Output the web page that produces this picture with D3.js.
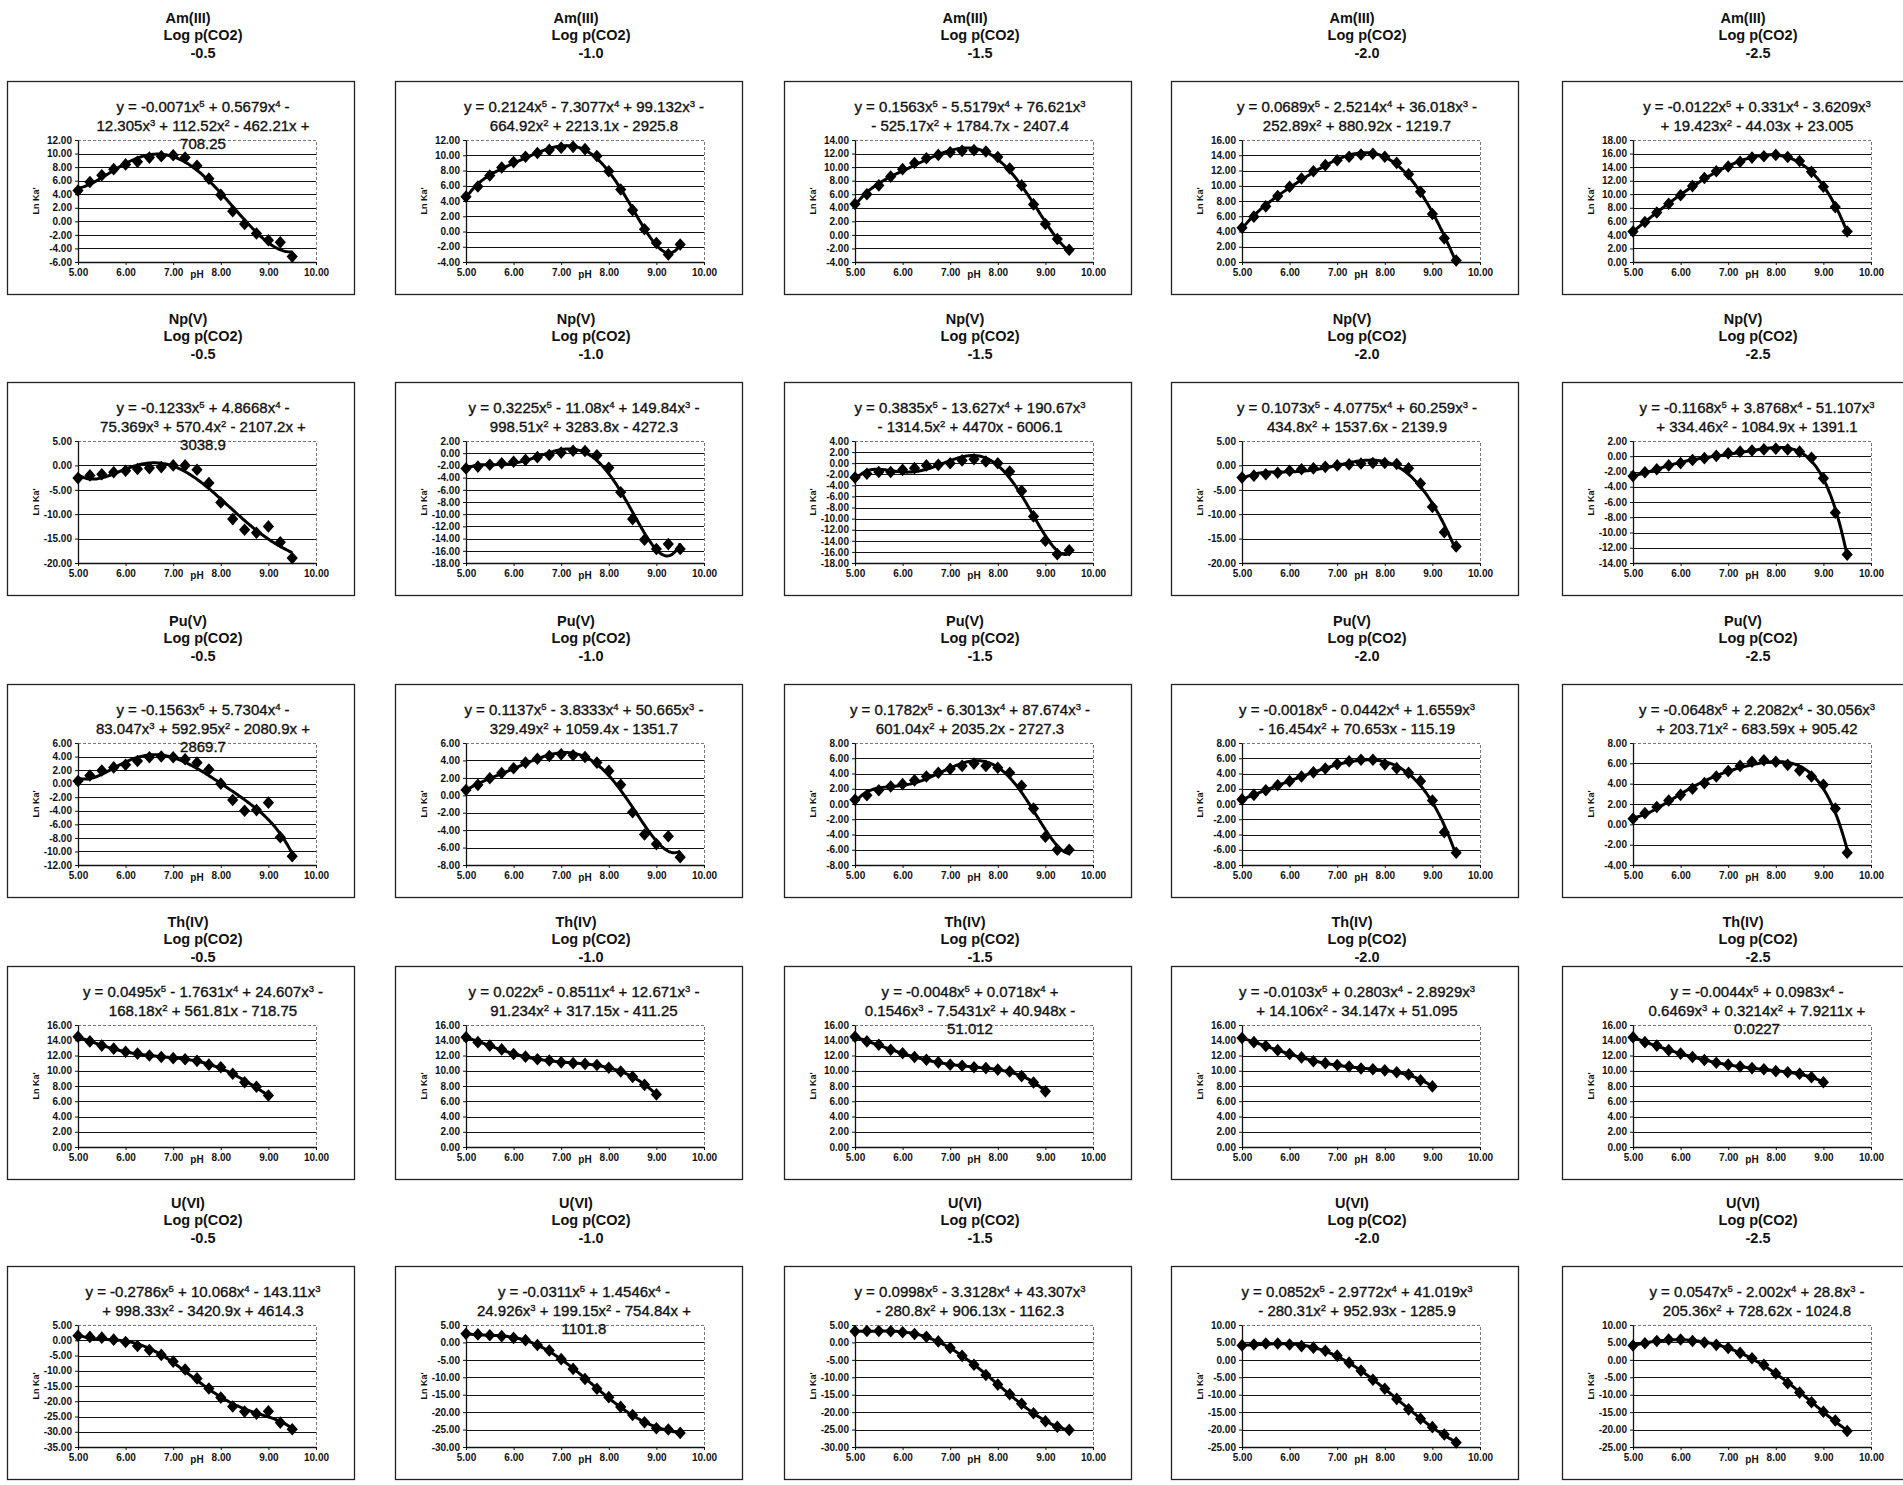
<!DOCTYPE html>
<html>
<head>
<meta charset="utf-8">
<script src="https://cdn.jsdelivr.net/npm/d3@7"></script>
<style>
  body { margin: 0; background: #fff; }
  svg { display: block; }
  text { font-family: "Liberation Sans", Arial, Helvetica, sans-serif; fill: #111; }
</style>
</head>
<body>
<svg id="chart" width="1903" height="1485"></svg>
<script>
// ---- data ---------------------------------------------------------------
const elements = ["Am(III)", "Np(V)", "Pu(V)", "Th(IV)", "U(VI)"];
const pco2Levels = ["-0.5", "-1.0", "-1.5", "-2.0", "-2.5"];

// pH grid of the calculations
const phFull = [5.00, 5.25, 5.50, 5.75, 6.00, 6.25, 6.50, 6.75, 7.00, 7.25,
                7.50, 7.75, 8.00, 8.25, 8.50, 8.75, 9.00, 9.25, 9.50];
const phTh = [5.00, 5.25, 5.50, 5.75, 6.00, 6.25, 6.50, 6.75, 7.00, 7.25,
              7.50, 7.75, 8.00, 8.25, 8.50, 8.75, 9.00];

const xTickValues = [5, 6, 7, 8, 9, 10];

// y axis ticks per panel: [min, max, step]
const yTickSpecs = [
  [[-6, 12, 2], [-4, 12, 2], [-4, 14, 2], [0, 16, 2], [0, 18, 2]],
  [[-20, 5, 5], [-18, 2, 2], [-18, 4, 2], [-20, 5, 5], [-14, 2, 2]],
  [[-12, 6, 2], [-8, 6, 2], [-8, 8, 2], [-8, 8, 2], [-4, 8, 2]],
  [[0, 16, 2], [0, 16, 2], [0, 16, 2], [0, 16, 2], [0, 16, 2]],
  [[-35, 5, 5], [-30, 5, 5], [-30, 5, 5], [-25, 10, 5], [-25, 10, 5]]
];

// Ln Ka' values, one series per element and log p(CO2)
const lnKaAm = [
  [4.55, 5.8, 6.8, 7.7, 8.4, 8.8, 9.4, 9.6, 9.75, 9.4, 8.2, 6.3, 3.9, 1.5, -0.4, -1.8, -2.8, -3.1, -5.2],
  [4.57, 5.9, 7.35, 8.4, 9.1, 9.8, 10.3, 10.7, 11.0, 11.1, 10.8, 9.9, 7.9, 5.5, 2.8, 0.3, -1.5, -3.0, -1.7],
  [4.56, 6.0, 7.3, 8.6, 9.7, 10.6, 11.3, 11.8, 12.2, 12.4, 12.5, 12.3, 11.5, 9.8, 7.3, 4.5, 1.6, -0.6, -2.2],
  [4.5, 5.95, 7.3, 8.65, 9.87, 10.96, 11.9, 12.7, 13.35, 13.8, 14.1, 14.2, 13.8, 13.0, 11.5, 9.2, 6.3, 3.1, 0.2],
  [4.5, 5.9, 7.3, 8.6, 9.85, 11.2, 12.4, 13.4, 14.1, 14.8, 15.4, 15.6, 15.8, 15.5, 14.9, 13.3, 11.1, 8.1, 4.5]
];
const lnKaNp = [
  [-2.6, -2.05, -1.8, -1.4, -1.1, -0.75, -0.55, -0.35, 0.0, 0.0, -0.9, -3.6, -7.6, -11.0, -13.2, -13.8, -12.5, -15.75, -19.0],
  [-2.5, -2.2, -1.9, -1.65, -1.4, -1.1, -0.65, -0.3, 0.1, 0.4, 0.36, -0.35, -2.4, -6.4, -10.8, -14.2, -15.7, -14.9, -15.7],
  [-2.6, -1.9, -1.6, -1.6, -1.2, -0.9, -0.4, -0.3, 0.0, 0.5, 0.7, 0.3, 0.0, -1.5, -5.0, -9.6, -14.0, -16.4, -15.7],
  [-2.5, -2.1, -1.8, -1.5, -1.1, -0.8, -0.6, -0.3, 0.0, 0.2, 0.4, 0.5, 0.5, 0.3, -0.6, -3.7, -8.5, -13.7, -16.6],
  [-2.6, -2.1, -1.7, -1.2, -0.9, -0.5, -0.25, 0.05, 0.4, 0.6, 0.75, 0.9, 1.0, 0.9, 0.6, -0.2, -2.9, -7.4, -12.9]
];
const lnKaPu = [
  [0.4, 1.2, 1.95, 2.4, 2.8, 3.35, 3.9, 4.0, 3.9, 3.6, 3.1, 2.1, 0.0, -2.4, -4.0, -3.9, -2.8, -7.9, -10.7],
  [0.6, 1.2, 1.95, 2.55, 3.1, 3.75, 4.2, 4.5, 4.7, 4.6, 4.4, 3.75, 2.8, 1.2, -1.95, -4.5, -5.6, -4.7, -7.1],
  [0.55, 1.15, 1.8, 2.3, 2.6, 3.1, 3.6, 4.1, 4.6, 5.0, 5.3, 5.0, 4.75, 4.1, 2.4, -0.6, -4.3, -6.0, -6.0],
  [0.6, 1.2, 1.8, 2.45, 3.0, 3.6, 4.15, 4.65, 5.25, 5.6, 5.8, 5.8, 5.2, 4.7, 4.1, 3.0, 0.45, -3.7, -6.4],
  [0.55, 1.1, 1.7, 2.35, 2.9, 3.5, 4.05, 4.7, 5.25, 5.75, 6.15, 6.3, 6.15, 5.85, 5.3, 4.7, 3.9, 1.55, -2.8]
];
const lnKaTh = [
  [14.45, 13.85, 13.3, 12.9, 12.5, 12.25, 12.0, 11.8, 11.65, 11.5, 11.3, 10.8, 10.45, 9.6, 8.5, 7.9, 6.75],
  [14.4, 13.75, 13.3, 12.8, 12.2, 11.85, 11.5, 11.35, 11.1, 11.0, 10.9, 10.75, 10.4, 9.9, 9.2, 8.15, 6.9],
  [14.45, 13.85, 13.4, 12.75, 12.3, 11.8, 11.45, 11.1, 10.8, 10.65, 10.45, 10.35, 10.15, 9.9, 9.3, 8.45, 7.3],
  [14.3, 13.75, 13.25, 12.7, 12.2, 11.75, 11.25, 11.0, 10.75, 10.55, 10.3, 10.2, 10.05, 9.8, 9.5, 8.75, 7.95],
  [14.4, 13.75, 13.3, 12.7, 12.25, 11.8, 11.4, 11.05, 10.8, 10.55, 10.35, 10.2, 9.95, 9.8, 9.6, 9.15, 8.5]
];
const lnKaU = [
  [1.5, 1.1, 0.85, 0.2, -0.55, -1.9, -3.2, -4.8, -7.0, -9.6, -12.5, -15.8, -18.8, -21.7, -23.4, -24.1, -23.3, -27.0, -29.2],
  [2.5, 2.3, 2.05, 1.8, 1.3, 0.65, -0.75, -2.3, -4.8, -7.6, -10.5, -13.3, -15.7, -18.5, -20.8, -22.9, -24.6, -25.0, -25.95],
  [3.2, 3.3, 3.3, 3.2, 2.9, 2.4, 1.65, 0.3, -1.55, -3.85, -6.4, -9.35, -12.1, -14.85, -17.6, -20.3, -22.6, -24.2, -25.1],
  [4.15, 4.4, 4.7, 4.7, 4.4, 3.95, 3.5, 2.6, 1.2, -0.8, -3.1, -5.7, -8.3, -11.2, -14.2, -16.9, -19.3, -21.4, -23.7],
  [4.1, 4.75, 5.4, 5.85, 5.85, 5.4, 5.0, 4.3, 3.4, 2.0, 0.45, -1.45, -3.9, -6.7, -9.4, -12.15, -14.9, -17.4, -20.4]
];
const lnKa = [lnKaAm, lnKaNp, lnKaPu, lnKaTh, lnKaU];
const phByElement = [phFull, phFull, phFull, phTh, phFull];

// 5th-order trendline equations as printed (lines as wrapped in the label, ^n = superscript)
const equations = [
  [
    ["y = -0.0071x^5 + 0.5679x^4 -", "12.305x^3 + 112.52x^2 - 462.21x +", "708.25"],
    ["y = 0.2124x^5 - 7.3077x^4 + 99.132x^3 -", "664.92x^2 + 2213.1x - 2925.8"],
    ["y = 0.1563x^5 - 5.5179x^4 + 76.621x^3", "- 525.17x^2 + 1784.7x - 2407.4"],
    ["y = 0.0689x^5 - 2.5214x^4 + 36.018x^3 -", "252.89x^2 + 880.92x - 1219.7"],
    ["y = -0.0122x^5 + 0.331x^4 - 3.6209x^3", "+ 19.423x^2 - 44.03x + 23.005"]
  ],
  [
    ["y = -0.1233x^5 + 4.8668x^4 -", "75.369x^3 + 570.4x^2 - 2107.2x +", "3038.9"],
    ["y = 0.3225x^5 - 11.08x^4 + 149.84x^3 -", "998.51x^2 + 3283.8x - 4272.3"],
    ["y = 0.3835x^5 - 13.627x^4 + 190.67x^3", "- 1314.5x^2 + 4470x - 6006.1"],
    ["y = 0.1073x^5 - 4.0775x^4 + 60.259x^3 -", "434.8x^2 + 1537.6x - 2139.9"],
    ["y = -0.1168x^5 + 3.8768x^4 - 51.107x^3", "+ 334.46x^2 - 1084.9x + 1391.1"]
  ],
  [
    ["y = -0.1563x^5 + 5.7304x^4 -", "83.047x^3 + 592.95x^2 - 2080.9x +", "2869.7"],
    ["y = 0.1137x^5 - 3.8333x^4 + 50.665x^3 -", "329.49x^2 + 1059.4x - 1351.7"],
    ["y = 0.1782x^5 - 6.3013x^4 + 87.674x^3 -", "601.04x^2 + 2035.2x - 2727.3"],
    ["y = -0.0018x^5 - 0.0442x^4 + 1.6559x^3", "- 16.454x^2 + 70.653x - 115.19"],
    ["y = -0.0648x^5 + 2.2082x^4 - 30.056x^3", "+ 203.71x^2 - 683.59x + 905.42"]
  ],
  [
    ["y = 0.0495x^5 - 1.7631x^4 + 24.607x^3 -", "168.18x^2 + 561.81x - 718.75"],
    ["y = 0.022x^5 - 0.8511x^4 + 12.671x^3 -", "91.234x^2 + 317.15x - 411.25"],
    ["y = -0.0048x^5 + 0.0718x^4 +", "0.1546x^3 - 7.5431x^2 + 40.948x -", "51.012"],
    ["y = -0.0103x^5 + 0.2803x^4 - 2.8929x^3", "+ 14.106x^2 - 34.147x + 51.095"],
    ["y = -0.0044x^5 + 0.0983x^4 -", "0.6469x^3 + 0.3214x^2 + 7.9211x +", "0.0227"]
  ],
  [
    ["y = -0.2786x^5 + 10.068x^4 - 143.11x^3", "+ 998.33x^2 - 3420.9x + 4614.3"],
    ["y = -0.0311x^5 + 1.4546x^4 -", "24.926x^3 + 199.15x^2 - 754.84x +", "1101.8"],
    ["y = 0.0998x^5 - 3.3128x^4 + 43.307x^3", "- 280.8x^2 + 906.13x - 1162.3"],
    ["y = 0.0852x^5 - 2.9772x^4 + 41.019x^3", "- 280.31x^2 + 952.93x - 1285.9"],
    ["y = 0.0547x^5 - 2.002x^4 + 28.8x^3 -", "205.36x^2 + 728.62x - 1024.8"]
  ]
];

// ---- layout -------------------------------------------------------------
const colLeft = [7, 395, 784, 1171, 1562];
const rowTop = [81, 382, 684, 966, 1266];
const titleDrop = [0, 0, 0, 19, 0];
const eqCenter = [196, 189, 186, 186, 195];
const boxW = 347, boxH = 213;
const plot = { left: 71, top: 59, width: 238, height: 122 };

const svg = d3.select("#chart");
svg.append("defs").append("clipPath").attr("id", "plotClip")
  .append("rect").attr("x", 0).attr("y", 0).attr("width", plot.width).attr("height", plot.height);

const fmt = d => d.toFixed(2);

// least-squares polynomial trendline (order 5), in a centred/scaled variable
function polyTrend(xs, ys, order) {
  const c = 7.25, s = 2.25, n = order + 1;
  const A = Array.from({ length: n }, () => new Array(n).fill(0));
  const b = new Array(n).fill(0);
  xs.forEach((x, i) => {
    const t = (x - c) / s;
    const pw = [];
    for (let k = 0; k < 2 * n; k++) pw.push(Math.pow(t, k));
    for (let r = 0; r < n; r++) {
      b[r] += pw[r] * ys[i];
      for (let q = 0; q < n; q++) A[r][q] += pw[r + q];
    }
  });
  for (let col = 0; col < n; col++) {
    let piv = col;
    for (let r = col + 1; r < n; r++) if (Math.abs(A[r][col]) > Math.abs(A[piv][col])) piv = r;
    [A[col], A[piv]] = [A[piv], A[col]];
    [b[col], b[piv]] = [b[piv], b[col]];
    for (let r = col + 1; r < n; r++) {
      const f = A[r][col] / A[col][col];
      for (let q = col; q < n; q++) A[r][q] -= f * A[col][q];
      b[r] -= f * b[col];
    }
  }
  const coef = new Array(n).fill(0);
  for (let r = n - 1; r >= 0; r--) {
    let sum = b[r];
    for (let q = r + 1; q < n; q++) sum -= A[r][q] * coef[q];
    coef[r] = sum / A[r][r];
  }
  return x => {
    const t = (x - c) / s;
    let v = 0;
    for (let k = n - 1; k >= 0; k--) v = v * t + coef[k];
    return v;
  };
}

function addRichLine(textSel, str) {
  str.split(/(\^\d)/).forEach(part => {
    if (!part) return;
    if (part[0] === "^") {
      textSel.append("tspan").attr("baseline-shift", "super").attr("font-size", "9.5px").text(part.slice(1));
    } else {
      textSel.append("tspan").text(part);
    }
  });
}

const diamond = "M0,-6.3L5.6,0L0,6.3L-5.6,0Z";

elements.forEach((el, r) => {
  pco2Levels.forEach((lvl, c) => {
    const g = svg.append("g").attr("transform", `translate(${colLeft[c]},${rowTop[r]})`);

    // panel title
    const dy = titleDrop[r];
    const titleLines = [[el, 181, -58.5 + dy], ["Log p(CO2)", 196, -41 + dy], [lvl, 196, -23 + dy]];
    titleLines.forEach(([t, x, y]) => {
      g.append("text").attr("x", x).attr("y", y).attr("text-anchor", "middle")
        .attr("font-size", "14.5px").attr("font-weight", "bold").text(t);
    });

    // chart frame
    g.append("rect").attr("x", 0.5).attr("y", 0.5).attr("width", boxW).attr("height", boxH)
      .attr("fill", "#fff").attr("stroke", "#222").attr("stroke-width", 1.3);

    const [yMin, yMax, yStep] = yTickSpecs[r][c];
    const yTicks = d3.range(yMin, yMax + yStep / 2, yStep);
    const x = d3.scaleLinear().domain([5, 10]).range([0, plot.width]);
    const y = d3.scaleLinear().domain([yMin, yMax]).range([plot.height, 0]);

    const p = g.append("g").attr("transform", `translate(${plot.left},${plot.top})`);

    // horizontal gridlines
    p.append("g").selectAll("line").data(yTicks.filter(t => t !== yMin && t !== yMax)).join("line")
      .attr("x1", 0).attr("x2", plot.width)
      .attr("y1", d => Math.round(y(d)) + 0.5).attr("y2", d => Math.round(y(d)) + 0.5)
      .attr("stroke", "#111").attr("stroke-width", 1.1);

    // plot-area border (top and right)
    p.append("path")
      .attr("d", `M0,0.5H${plot.width + 0.5}V${plot.height}`)
      .attr("fill", "none").attr("stroke", "#777").attr("stroke-width", 1).attr("stroke-dasharray", "3,2");

    // axes
    const yAxis = p.append("g").call(
      d3.axisLeft(y).tickValues(yTicks).tickFormat(fmt).tickSize(3).tickSizeOuter(0).tickPadding(3));
    const xAxis = p.append("g").attr("transform", `translate(0,${plot.height})`).call(
      d3.axisBottom(x).tickValues(xTickValues).tickFormat(fmt).tickSize(3).tickSizeOuter(0).tickPadding(4));
    [yAxis, xAxis].forEach(a => {
      a.select(".domain").attr("stroke", "#111").attr("stroke-width", 1.3);
      a.selectAll(".tick line").attr("stroke", "#111");
      a.selectAll("text").attr("font-size", "10px").attr("font-weight", "bold")
        .attr("font-family", "Liberation Sans, Arial, sans-serif").attr("fill", "#111");
    });

    // axis titles
    p.append("text").attr("x", x(7.5)).attr("y", plot.height + 16).attr("text-anchor", "middle")
      .attr("font-size", "10px").attr("font-weight", "bold").text("pH");
    p.append("text").attr("transform", `translate(-39,${plot.height / 2}) rotate(-90)`)
      .attr("text-anchor", "middle").attr("font-size", "9px").attr("font-weight", "bold").text("Ln Ka'");

    // trendline + points
    const xs = phByElement[r];
    const ys = lnKa[r][c];
    const trend = polyTrend(xs, ys, 5);
    const lo = d3.min(xs), hi = d3.max(xs);
    const curve = d3.range(0, 201).map(i => lo + (hi - lo) * i / 200).map(v => [v, trend(v)]);
    p.append("path").datum(curve)
      .attr("clip-path", "url(#plotClip)")
      .attr("d", d3.line().x(d => x(d[0])).y(d => y(d[1])))
      .attr("fill", "none").attr("stroke", "#000").attr("stroke-width", 3);

    p.append("g").selectAll("path").data(xs.map((v, i) => [v, ys[i]])).join("path")
      .attr("transform", d => `translate(${x(d[0])},${y(d[1])})`)
      .attr("d", diamond).attr("fill", "#000");

    // trendline equation label
    equations[r][c].forEach((line, i) => {
      const t = g.append("text").attr("x", eqCenter[c]).attr("y", 31 + i * 18.5)
        .attr("text-anchor", "middle").attr("font-size", "15px")
        .attr("stroke", "#111").attr("stroke-width", 0.35);
      addRichLine(t, line);
    });
  });
});
</script>
</body>
</html>
